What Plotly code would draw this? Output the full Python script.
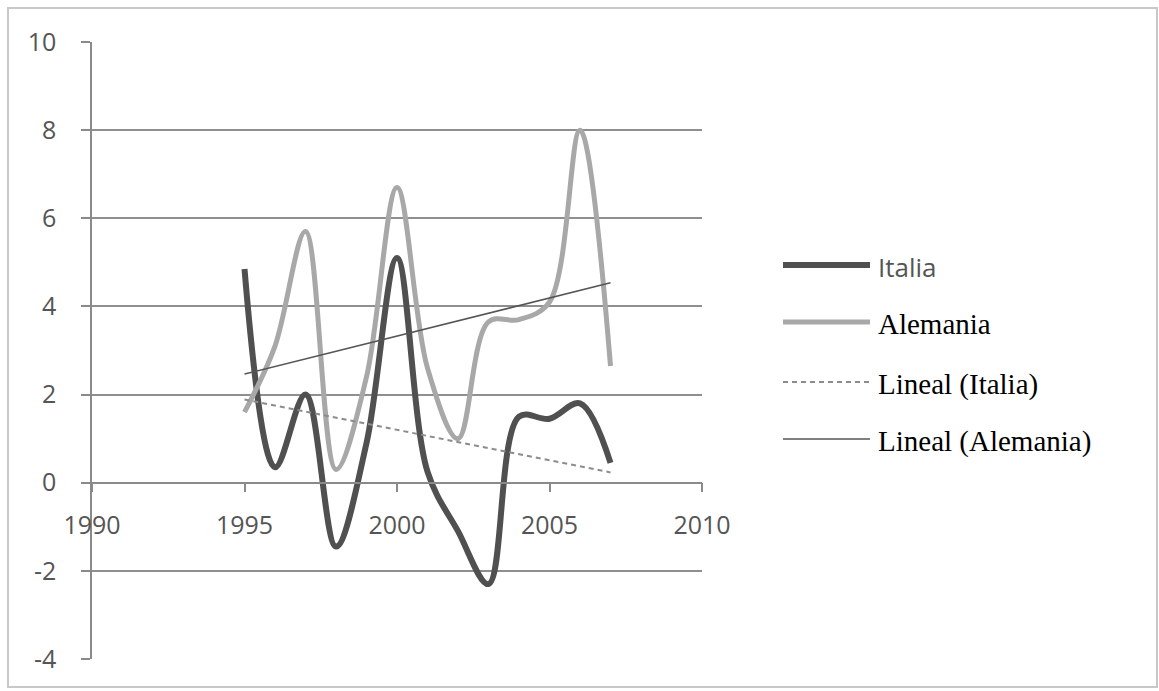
import numpy as np
import plotly.graph_objects as go

# Annual series, 1995-2007
years = [1995, 1996, 1997, 1998, 1999, 2000, 2001, 2002, 2003, 2004, 2005, 2006, 2007]
italia = [4.85, 0.35, 2.0, -1.45, 0.9, 5.1, 0.25, -1.1, -2.3, 1.5, 1.45, 1.8, 0.45]
alemania = [1.6, 3.1, 5.7, 0.3, 2.4, 6.7, 2.6, 1.0, 3.65, 3.7, 4.1, 8.0, 2.65]

series_names = ["Italia", "Alemania", "Lineal (Italia)", "Lineal (Alemania)"]
x_ticks = [1990, 1995, 2000, 2005, 2010]
x_labels = ["1990", "1995", "2000", "2005", "2010"]
y_ticks = [-4, -2, 0, 2, 4, 6, 8, 10]
y_labels = ["-4", "-2", "0", "2", "4", "6", "8", "10"]

W, H = 1159, 691
L, R, T, B = 92, 702, 42, 659  # plot area in pixels


def px_x(p):
    return (p - L) / (R - L)


def px_y(p):
    return (B - p) / (B - T)


# least-squares trend lines
def trend(xs, ys):
    k, b = np.polyfit(xs, ys, 1)
    return [k * xs[0] + b, k * xs[-1] + b]


tx = [years[0], years[-1]]
c_it = "#505050"
c_al = "#a8a8a8"
c_tit = "#8c8c8c"
c_tal = "#555555"

fig = go.Figure()
fig.add_trace(go.Scatter(x=years, y=italia, mode="lines",
                         line=dict(color=c_it, width=6, shape="spline", smoothing=1)))
fig.add_trace(go.Scatter(x=years, y=alemania, mode="lines",
                         line=dict(color=c_al, width=5, shape="spline", smoothing=1)))
fig.add_trace(go.Scatter(x=tx, y=trend(years, italia), mode="lines",
                         line=dict(color=c_tit, width=2, dash="5px,4px")))
fig.add_trace(go.Scatter(x=tx, y=trend(years, alemania), mode="lines",
                         line=dict(color=c_tal, width=1.6)))

shapes = [
    # outer chart frame
    dict(type="rect", xref="paper", yref="paper",
         x0=px_x(8), x1=px_x(1157), y0=px_y(687), y1=px_y(8),
         line=dict(color="#c8c8c8", width=2), layer="below"),
]
annotations = []

# legend
leg_y = [265, 322, 382, 439]
leg_style = [
    dict(color=c_it, width=6, dash="solid"),
    dict(color=c_al, width=5, dash="solid"),
    dict(color=c_tit, width=2, dash="5px,4px"),
    dict(color=c_tal, width=1.6, dash="solid"),
]
sans = "Open Sans, Lato, sans-serif"
serif = "Liberation Serif, Times New Roman, serif"
leg_font = [
    dict(family=sans, size=26, color="#555555"),
    dict(family=serif, size=29, color="#000000"),
    dict(family=serif, size=29, color="#000000"),
    dict(family=serif, size=29, color="#000000"),
]
for name, yy, st, fnt in zip(series_names, leg_y, leg_style, leg_font):
    shapes.append(dict(type="line", xref="paper", yref="paper",
                       x0=px_x(783), x1=px_x(870), y0=px_y(yy), y1=px_y(yy),
                       line=st))
    annotations.append(dict(xref="paper", yref="paper", x=px_x(876), y=px_y(yy + 2),
                            text=name, showarrow=False, xanchor="left", yanchor="middle",
                            font=fnt))

tick_font = dict(family=sans, size=25, color="#555555")

fig.update_layout(
    width=W, height=H,
    margin=dict(l=L, r=W - R, t=T, b=H - B),
    paper_bgcolor="white", plot_bgcolor="white",
    showlegend=False,
    shapes=shapes, annotations=annotations,
    xaxis=dict(range=[1990, 2010], tickvals=x_ticks, ticktext=x_labels,
               showgrid=False, zeroline=False,
               anchor="free", position=(0 - (-4)) / 14,
               showline=True, linecolor="#8a8a8a", linewidth=1.5,
               ticks="outside", ticklen=9, tickcolor="#8a8a8a", tickwidth=1.5,
               tickfont=tick_font, ticklabelstandoff=12),
    yaxis=dict(range=[-4, 10], tickvals=y_ticks, ticktext=y_labels,
               showgrid=True, gridcolor="#8f8f8f",
               gridwidth=1.5, zeroline=False,
               showline=True, linecolor="#8a8a8a", linewidth=1.5,
               ticks="outside", ticklen=9, tickcolor="#8a8a8a", tickwidth=1.5,
               tickfont=tick_font, ticklabelstandoff=20),
)

fig.write_html("out.html")
